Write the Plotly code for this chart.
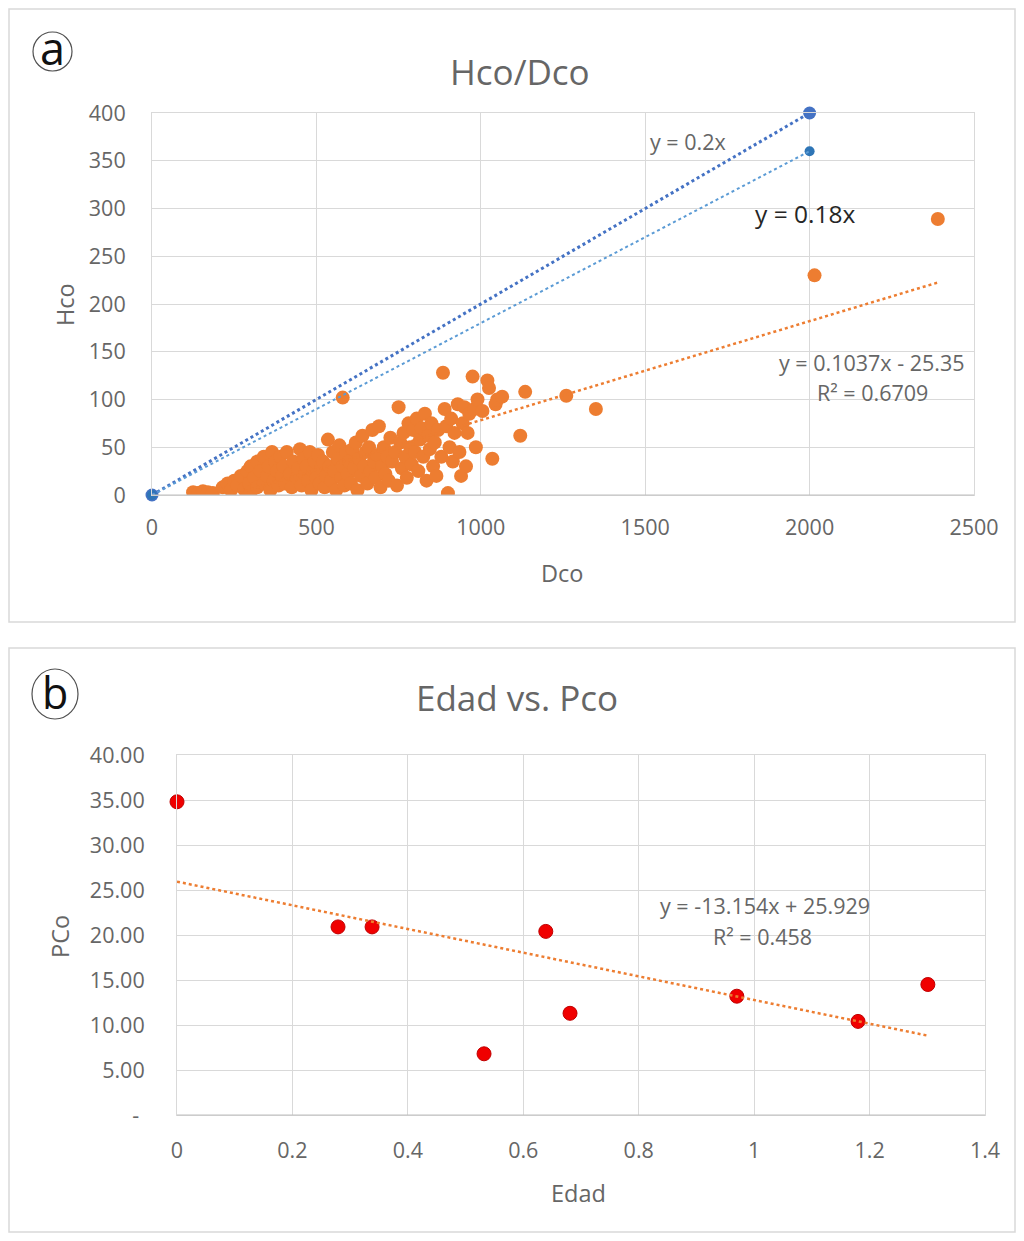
import plotly.graph_objects as go

# page: body margin 8px, so the figure is 1008x1225 and sits at (8, 8)
W, H = 1008, 1225
OFF = 8

# ---------------- Panel a data ----------------
dco = [125, 140, 155, 170, 185,
       215, 230, 240, 250, 260, 270, 280, 290, 295, 300, 300,
       310, 320, 320, 330, 340, 340, 350, 355, 360, 365, 370, 375, 380, 385, 390, 395,
       400, 405, 410, 420, 425, 430, 440, 445, 450, 455, 460, 465, 470, 475, 480, 485, 490, 495, 500,
       505, 510, 515, 520, 525, 530, 535, 540, 545, 550, 555, 560, 565, 570, 575, 580, 580, 585, 590, 595, 600,
       605, 610, 615, 620, 625, 630, 635, 640, 645, 650, 655, 660, 665, 670, 675, 680, 685, 690, 695, 700,
       705, 710, 715, 720, 725, 730, 740, 745, 750, 755, 760, 765, 770, 775, 780, 785, 790, 795, 800,
       805, 810, 815, 820, 825, 830, 835, 840, 845, 850, 855, 860, 865, 870, 880, 885, 890, 895, 900,
       905, 910, 915, 920, 930, 935, 940, 945, 950, 955, 960, 965, 975, 980, 985, 990,
       1005, 1020, 1025, 1035, 1045, 1050, 1065, 1120, 1135, 1260, 1350, 2015, 2390]
hco = [3, 2, 4, 3, 2,
       8, 12, 5, 15, 10, 20, 6, 25, 12, 30, 3,
       18, 35, 8, 25, 40, 12, 20, 30, 5, 45, 15, 35, 25, 10, 40, 20,
       30, 12, 45, 22, 8, 35, 18, 28, 48, 10, 38, 22, 30, 15, 45, 5, 25, 35, 18,
       42, 12, 28, 35, 8, 20, 58, 30, 15, 45, 25, 5, 38, 52, 18, 102, 30, 10, 45, 22, 35,
       12, 48, 28, 55, 5, 38, 20, 62, 30, 45, 12, 50, 25, 68, 35, 18, 42, 72, 8, 30,
       50, 22, 40, 15, 60, 35, 45, 10, 92, 55, 28, 65, 40, 18, 75, 50, 32, 68, 45,
       80, 25, 58, 70, 40, 85, 15, 62, 48, 75, 30, 55, 20, 68, 40, 128, 90, 72, 2,
       50, 80, 35, 65, 95, 45, 20, 75, 92, 30, 65, 85, 124, 90, 50, 100,
       88, 120, 112, 38, 95, 100, 103, 62, 108, 104, 90, 230, 289]

ref_x = [0, 2000]
ref1_y = [0, 400]     # y = 0.2x
ref2_y = [0, 360]     # y = 0.18x
slope1, slope2 = 0.2, 0.18
trend_a_m, trend_a_b = 0.1037, -25.35

xticks_a = [0, 500, 1000, 1500, 2000, 2500]
yticks_a = [0, 50, 100, 150, 200, 250, 300, 350, 400]

# ---------------- Panel b data ----------------
edad = [0.0, 0.279, 0.338, 0.532, 0.639, 0.681, 0.970, 1.180, 1.301]
pco = [34.8, 20.9, 20.9, 6.8, 20.4, 11.3, 13.2, 10.4, 14.5]
trend_b_m, trend_b_b = -13.154, 25.929

xticks_b = [0, 0.2, 0.4, 0.6, 0.8, 1, 1.2, 1.4]
yticks_b = [0, 5, 10, 15, 20, 25, 30, 35, 40]
yticklabels_b = ["-\u00a0", "5.00", "10.00", "15.00", "20.00", "25.00", "30.00", "35.00", "40.00"]

FONT = "Open Sans"
GREY = "#666666"
GRID = "#D9D9D9"
ORANGE = "#ED7D31"
BLUE1 = "#4472C4"
BLUE2 = "#2E75B6"


def px_x(p):
    return (p - OFF) / W


def px_y(p):
    return 1 - (p - OFF) / H


fig = go.Figure()

# Panel a traces
fig.add_trace(go.Scatter(x=dco, y=hco, mode="markers", xaxis="x", yaxis="y",
                         marker=dict(color=ORANGE, size=14), showlegend=False))
fig.add_trace(go.Scatter(x=ref_x, y=ref1_y, mode="markers", xaxis="x", yaxis="y",
                         marker=dict(color=BLUE1, size=13), showlegend=False, cliponaxis=False))
fig.add_trace(go.Scatter(x=ref_x, y=ref2_y, mode="markers", xaxis="x", yaxis="y",
                         marker=dict(color=BLUE2, size=10), showlegend=False, cliponaxis=False))
# trendlines
fig.add_trace(go.Scatter(x=ref_x, y=[slope1 * v for v in ref_x], mode="lines", xaxis="x", yaxis="y",
                         line=dict(color=BLUE1, width=3, dash="dot"), showlegend=False))
fig.add_trace(go.Scatter(x=ref_x, y=[slope2 * v for v in ref_x], mode="lines", xaxis="x", yaxis="y",
                         line=dict(color="#5B9BD5", width=2, dash="dot"), showlegend=False))
tx = [min(dco), max(dco)]
fig.add_trace(go.Scatter(x=tx, y=[trend_a_m * v + trend_a_b for v in tx], mode="lines", xaxis="x", yaxis="y",
                         line=dict(color=ORANGE, width=2.5, dash="dot"), showlegend=False))

# Panel b traces
fig.add_trace(go.Scatter(x=edad, y=pco, mode="markers", xaxis="x2", yaxis="y2",
                         marker=dict(color="#F00000", size=14, line=dict(color="#C00000", width=1)),
                         showlegend=False, cliponaxis=False))
tbx = [min(edad), max(edad)]
fig.add_trace(go.Scatter(x=tbx, y=[trend_b_m * v + trend_b_b for v in tbx], mode="lines", xaxis="x2", yaxis="y2",
                         line=dict(color=ORANGE, width=2.5, dash="dot"), showlegend=False))

axis_common = dict(showgrid=True, gridcolor=GRID, gridwidth=1, zeroline=False,
                   showline=True, mirror=True, linecolor=GRID, linewidth=1,
                   ticks="outside", tickcolor="rgba(0,0,0,0)", automargin=False,
                   tickfont=dict(family=FONT, size=21.5, color=GREY))

fig.update_layout(
    width=W, height=H,
    margin=dict(l=0, r=0, t=0, b=0),
    paper_bgcolor="white", plot_bgcolor="white",
    xaxis=dict(domain=[px_x(152), px_x(974)], range=[0, 2500], tickvals=xticks_a,
               anchor="y", ticklen=13, **axis_common),
    yaxis=dict(domain=[px_y(495), px_y(113)], range=[0, 400], tickvals=yticks_a,
               anchor="x", ticklen=21, **axis_common),
    xaxis2=dict(domain=[px_x(177), px_x(985)], range=[0, 1.4], tickvals=xticks_b,
                ticktext=[("%g" % v) for v in xticks_b],
                anchor="y2", ticklen=16, **axis_common),
    yaxis2=dict(domain=[px_y(1115), px_y(755)], range=[0, 40], tickvals=yticks_b,
                ticktext=yticklabels_b, anchor="x2", ticklen=27, **axis_common),
)

shapes = [
    dict(type="rect", xref="paper", yref="paper", x0=px_x(9), x1=px_x(1015), y0=px_y(622), y1=px_y(9),
         line=dict(color="#D9D9D9", width=1.5)),
    dict(type="rect", xref="paper", yref="paper", x0=px_x(9), x1=px_x(1015), y0=px_y(1232), y1=px_y(648),
         line=dict(color="#D9D9D9", width=1.5)),
    dict(type="circle", xref="paper", yref="paper", x0=px_x(33), x1=px_x(72), y0=px_y(71), y1=px_y(32),
         line=dict(color="#505050", width=1.2)),
    dict(type="circle", xref="paper", yref="paper", x0=px_x(32), x1=px_x(78), y0=px_y(719), y1=px_y(669),
         line=dict(color="#505050", width=1.2)),
    # darker bottom axis lines
    dict(type="line", xref="paper", yref="paper", x0=px_x(152), x1=px_x(974), y0=px_y(495), y1=px_y(495),
         line=dict(color="#BFBFBF", width=1)),
    dict(type="line", xref="paper", yref="paper", x0=px_x(177), x1=px_x(985), y0=px_y(1115), y1=px_y(1115),
         line=dict(color="#BFBFBF", width=1)),
]


def ann(text, x, y, size, color=GREY, angle=0, xref="paper", yref="paper"):
    return dict(text=text, x=x, y=y, xref=xref, yref=yref, showarrow=False,
                font=dict(family=FONT, size=size, color=color), textangle=angle,
                xanchor="center", yanchor="middle")


annotations = [
    ann("a", px_x(52), px_y(48), 45, "#111111"),
    ann("b", px_x(55), px_y(692), 43, "#111111"),
    ann("Hco/Dco", px_x(520), px_y(72), 35),
    ann("Edad vs. Pco", px_x(517), px_y(697), 35),
    ann("Dco", px_x(562), px_y(573), 23.5),
    ann("Hco", px_x(65), px_y(305), 23.5, angle=-90),
    ann("Edad", px_x(578), px_y(1193), 23.5),
    ann("PCo", px_x(60), px_y(937), 23.5, angle=-90),
    ann("y = 0.2x", 1630, 370, 21.5, GREY, xref="x", yref="y"),
    ann("y = 0.18x", 1985, 295, 24.5, "#262626", xref="x", yref="y"),
    ann("y = 0.1037x - 25.35", 2190, 139, 21.5, GREY, xref="x", yref="y"),
    ann("R² = 0.6709", 2190, 107, 21.5, GREY, xref="x", yref="y"),
    ann("y = -13.154x + 25.929", 1.018, 23.3, 21.5, GREY, xref="x2", yref="y2"),
    ann("R² = 0.458", 1.015, 19.8, 21.5, GREY, xref="x2", yref="y2"),
]

fig.update_layout(shapes=shapes, annotations=annotations)

fig.write_html("out.html")
